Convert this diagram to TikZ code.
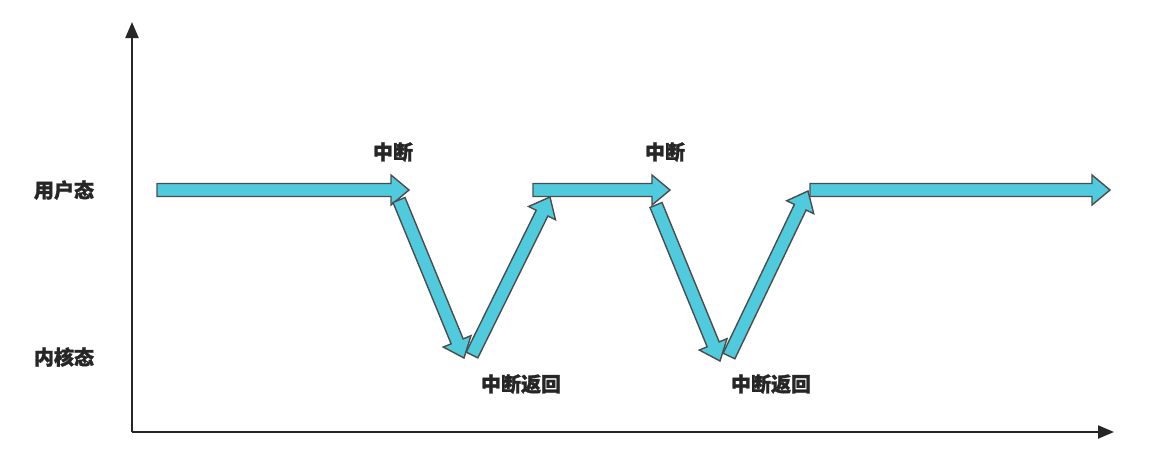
\documentclass[tikz,border=0pt]{standalone}
\usepackage{fontspec}
\newfontfamily\cjk[FakeBold=1.5]{Noto Sans CJK SC}
\usetikzlibrary{calc,arrows.meta}
\definecolor{blkc}{HTML}{4FCBDD}
\tikzset{blk/.style={draw=black!70,fill=blkc,line width=1.4pt,line join=miter},
lbl/.style={font=\cjk\bfseries\fontsize{20}{24}\selectfont,text=black!85},
axis/.style={line width=2.2pt,black!85,-{Triangle[length=16pt,width=13pt]}}}
\newcommand\blockarrow[2]{%
\coordinate (h#1#2) at ($(#2)!18pt!(#1)$);
\draw[blk] ($(#1)!6.5pt!90:(#2)$) -- ($(h#1#2)!6.5pt!-90:(#1)$) -- ($(h#1#2)!15pt!-90:(#1)$) -- (#2) -- ($(h#1#2)!15pt!90:(#1)$) -- ($(h#1#2)!6.5pt!90:(#1)$) -- ($(#1)!6.5pt!-90:(#2)$) -- cycle;}
\begin{document}
\begin{tikzpicture}[x=1pt,y=-1pt]
\useasboundingbox (0,0) rectangle (1165,455);
\coordinate (o) at (132,432);
\coordinate (ytop) at (132,22);
\coordinate (xend) at (1114,432);
\draw[axis] (o) -- (ytop);
\draw[axis] (o) -- (xend);
\node[lbl] (u) at (64,190) {用户态};
\node[lbl] (k) at (64,357) {内核态};
\node[lbl] (i1) at (393,152) {中断};
\node[lbl] (i2) at (665,152) {中断};
\node[lbl] (r1) at (521,384) {中断返回};
\node[lbl] (r2) at (771,384) {中断返回};
\coordinate (a1) at (157,190); \coordinate (b1) at (409,190);
\coordinate (a2) at (399,200); \coordinate (b2) at (464,358);
\coordinate (a3) at (472,355); \coordinate (b3) at (550,197);
\coordinate (a4) at (533,190); \coordinate (b4) at (670,190);
\coordinate (a5) at (656,205); \coordinate (b5) at (720,361);
\coordinate (a6) at (729,356); \coordinate (b6) at (808,191);
\coordinate (a7) at (810,190); \coordinate (b7) at (1110,190);
\blockarrow{a1}{b1}
\blockarrow{a2}{b2}
\blockarrow{a3}{b3}
\blockarrow{a4}{b4}
\blockarrow{a5}{b5}
\blockarrow{a6}{b6}
\blockarrow{a7}{b7}
\end{tikzpicture}
\end{document}
